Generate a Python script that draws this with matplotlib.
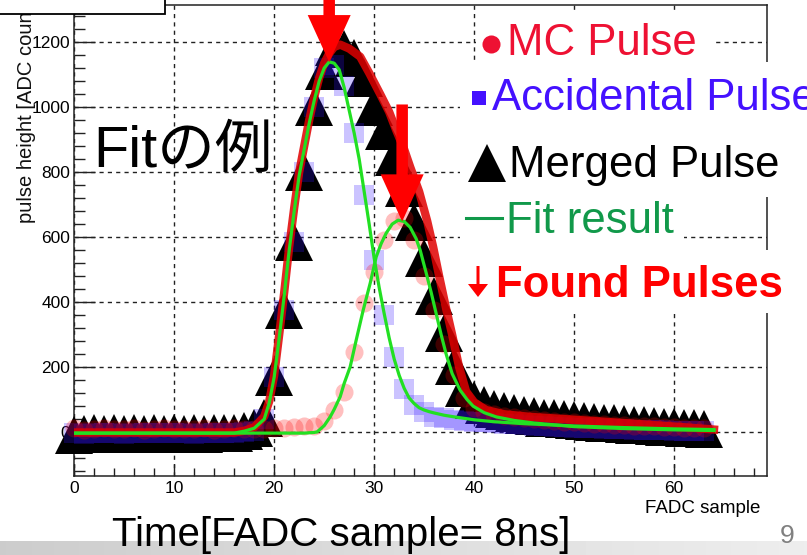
import matplotlib
matplotlib.use("Agg")
import matplotlib.pyplot as plt
import numpy as np
from matplotlib.patches import Rectangle, FancyArrow
from matplotlib.lines import Line2D
from matplotlib.ticker import MultipleLocator

plt.rcParams['font.family'] = ['Liberation Sans', 'Noto Sans CJK JP', 'DejaVu Sans']

W, H = 807, 555

######## data ########
samples = list(range(64))

merged_pulse = [-10, -5, -3, -6, -4, -5, -3, -6, -4, -5, -3, -5, -4, -6, -3, -4, -2, 2, 12,
                45, 170, 375, 585, 800, 1000, 1110, 1185, 1180, 1150, 1090, 1000, 925, 845,
                750, 645, 535, 420, 305, 205, 135, 100, 82, 70, 64, 58, 53, 49, 45, 42, 39,
                36, 34, 32, 29, 27, 25, 23, 21, 19, 17, 15, 14, 12, 10]

accidental_pulse = [-3, -5, -2, -4, -3, -5, -2, -4, -3, -2, -4, -3, -5, -2, -3, -4, -2, 0, 5,
                    40, 170, 375, 585, 800, 1000, 1120, 1130, 1065, 920, 730, 530, 360, 232,
                    133, 85, 62, 48, 42, 38, 35, 32, 30, 28, 26, 24, 22, 20, 18, 17, 15,
                    14, 13, 12, 11, 10, 9, 8, 7, 7, 6, 5, 5, 4, 4]

mc_pulse = [12, 8, 10, 14, 9, 11, 13, 8, 10, 12, 9, 11, 10, 13, 8, 10, 12, 9, 11, 10, 12, 14,
            15, 18, 20, 35, 68, 123, 246, 397, 492, 590, 650, 660, 590, 480, 375, 270, 175,
            105, 75, 62, 55, 50, 46, 42, 39, 36, 34, 32, 30, 28, 26, 25, 23, 22, 20, 19, 18,
            16, 15, 14, 13, 12]

# fit components (green) and total fit (red)
fit_acc_x = [0, 16, 17, 18, 19, 19.5, 20, 20.5, 21, 21.5, 22, 22.5, 23, 23.5, 24, 24.5, 25,
             25.5, 26, 26.5, 27, 27.5, 28, 28.5, 29, 29.5, 30, 30.5, 31, 31.5, 32, 32.5, 33,
             33.5, 34, 34.5, 35, 35.5, 36, 37, 38, 40, 42, 45, 50, 55, 60, 64]
fit_acc_y = [-3, -3, 3, 12, 40, 90, 170, 290, 420, 560, 680, 790, 870, 950, 1020, 1080, 1120,
             1139, 1135, 1115, 1060, 990, 920, 840, 740, 640, 535, 445, 365, 290, 225, 175, 135,
             105, 88, 75, 68, 63, 59, 52, 47, 38, 32, 26, 19, 14, 10, 8]

fit_mc_x = [0, 23, 24, 24.3, 25, 25.6, 26, 26.6, 27, 27.6, 28.2, 28.9, 29.6, 30.2, 30.7, 31.2,
            31.8, 32.4, 33, 33.6, 34.2, 34.6, 35.2, 35.7, 36.2, 36.7, 37.2, 37.8, 38.6, 39.3,
            39.9, 41, 42.2, 44, 46, 50, 55, 60, 64]
fit_mc_y = [-3, -3, -1, 1, 20, 47, 70, 109, 150, 201, 283, 375, 458, 539, 580, 612, 640, 652,
            648, 630, 595, 560, 490, 430, 365, 300, 240, 180, 129, 100, 80, 60, 47, 36, 28, 17,
            11, 7, 5]

fit_total_x = [0, 16, 17, 18, 19, 19.5, 20, 20.5, 21, 21.5, 22, 22.5, 23, 23.5, 24, 24.5, 25,
               25.5, 26, 26.6, 27.5, 28.6, 29.5, 30.6, 31.5, 32.2, 33, 33.6, 34.5, 35.3, 35.9,
               36.5, 37.2, 37.8, 38.5, 39.2, 40, 41.2, 43, 45.6, 50.6, 55, 60.6, 64]
fit_total_y = [-1, -1, 4, 15, 48, 95, 175, 300, 430, 570, 690, 800, 880, 960, 1030, 1090, 1135,
               1165, 1185, 1192, 1180, 1155, 1105, 1040, 985, 929, 870, 816, 740, 650, 570,
               480, 380, 300, 200, 125, 92, 68, 55, 47, 37, 28, 16, 8]

# found pulses (arrow tips)
found_x = [25.5, 32.8]
found_y = [1138, 648]

xticks = [0, 10, 20, 30, 40, 50, 60]
yticks = [0, 200, 400, 600, 800, 1000, 1200]


def fig_box(x0, y0, x1, y1):
    # pixel box (top-left origin) -> figure fraction rect
    return [x0 / W, 1 - y1 / H, (x1 - x0) / W, (y1 - y0) / H]


def fx(x):
    return x / W


def fy(y):
    return 1 - y / H


fig = plt.figure(figsize=(W / 100, H / 100), dpi=100)
fig.patch.set_facecolor('white')

ax = fig.add_axes(fig_box(74.3, 5, 767, 475.7))
ax.set_xlim(0, 69.3)
ax.set_ylim(-134, 1314)

ax.plot(samples, merged_pulse, ls='none', marker='^', ms=28, color='black', mew=0,
        clip_on=False, zorder=3)
ax.plot(samples, accidental_pulse, ls='none', marker='s', ms=14, color='#3311ff', alpha=0.25,
        mew=0, clip_on=False, zorder=4)
ax.plot(samples, mc_pulse, ls='none', marker='o', ms=13, color='#ff0000', alpha=0.25,
        mew=0, clip_on=False, zorder=5)

ax.plot(fit_total_x, fit_total_y, color='#e00000', alpha=0.85, lw=6, zorder=6)
ax.plot(fit_acc_x, fit_acc_y, color='#22e022', lw=2.3, zorder=7)
ax.plot(fit_mc_x, fit_mc_y, color='#22e022', lw=2.3, zorder=7)

arrow_len = 360
for ax_x, ax_y in zip(found_x, found_y):
    ax.add_patch(FancyArrow(ax_x, ax_y + arrow_len, 0, -arrow_len, width=1.15, head_width=4.3,
                            head_length=145, length_includes_head=True, color='#ff0000',
                            lw=0, clip_on=False, zorder=10))

ax.set_xticks(xticks)
ax.set_yticks(yticks)
ax.xaxis.set_minor_locator(MultipleLocator(2))
ax.yaxis.set_minor_locator(MultipleLocator(40))
ax.set_axisbelow(True)
ax.grid(True, which='major', color='#222222', ls=(0, (3, 3)), lw=1)
ax.tick_params(which='both', direction='in', width=1, colors='#222222', labelcolor='black',
               labelsize=12.5)
ax.tick_params(axis='x', which='major', length=9, pad=4)
ax.tick_params(axis='x', which='minor', length=5.5)
ax.tick_params(axis='y', which='major', length=15, pad=3)
ax.tick_params(axis='y', which='minor', length=8)
for s in ax.spines.values():
    s.set_color('#222222')
    s.set_linewidth(1.1)

# slide text boxes covering the frame
for box in [(476, 14, 712, 62), (460, 62, 807, 197), (460, 197, 684, 250), (460, 250, 800, 313)]:
    fig.add_artist(Rectangle((fx(box[0]), fy(box[3])), (box[2] - box[0]) / W,
                             (box[3] - box[1]) / H, transform=fig.transFigure,
                             facecolor='white', edgecolor='none', zorder=5))

# legend written on the slide
fs_leg = 31.5
fig.add_artist(Line2D([fx(491)], [fy(44)], marker='o', ms=13, color='#ee1133', mew=0,
                      transform=fig.transFigure, zorder=6))
fig.text(fx(507), fy(55), 'MC Pulse', color='#ee1133', fontsize=fs_leg, va='baseline', zorder=6)
fig.add_artist(Line2D([fx(479)], [fy(98)], marker='s', ms=10, color='#4411ff', mew=0,
                      transform=fig.transFigure, zorder=6))
fig.text(fx(492), fy(110), 'Accidental Pulse', color='#4411ff', fontsize=fs_leg, va='baseline', zorder=6)
fig.add_artist(Line2D([fx(487)], [fy(163)], marker='^', ms=28, color='black', mew=0,
                      transform=fig.transFigure, zorder=6))
fig.text(fx(509), fy(177), 'Merged Pulse', color='black', fontsize=fs_leg, va='baseline', zorder=6)
fig.add_artist(Line2D([fx(466), fx(502)], [fy(218), fy(218)], color='#11994a', lw=2.2,
                      transform=fig.transFigure, zorder=6))
fig.text(fx(506), fy(233), 'Fit result', color='#11994a', fontsize=fs_leg, va='baseline', zorder=6)
# the down arrow in front of "Found Pulses"
fig.add_artist(FancyArrow(fx(478), fy(266), 0, -(297 - 266) / H, width=3 / W, head_width=20 / W,
                          head_length=13 / H, length_includes_head=True, color='#ff0000', lw=0,
                          transform=fig.transFigure, zorder=6))
fig.text(fx(496), fy(297), 'Found Pulses', color='#ff0000', fontsize=fs_leg, fontweight='bold',
         va='baseline', zorder=6)

fig.text(fx(93), fy(167), 'Fitの例', color='black', fontsize=41.5, va='baseline', zorder=6)

fig.text(fx(26), fy(223), 'pulse height [ADC count]', rotation=90, rotation_mode='anchor',
         ha='left', va='center', fontsize=14.5, color='#111111', zorder=4)
fig.text(fx(760), fy(513), 'FADC sample', ha='right', va='baseline', fontsize=13.5, zorder=6)

# top-left slide box
fig.add_artist(Rectangle((fx(-2), fy(14)), 167 / W, 20 / H, transform=fig.transFigure,
                         facecolor='white', edgecolor='black', lw=1.3, zorder=7))

# bottom gray band
bax = fig.add_axes(fig_box(0, 541, 807, 555), zorder=1)
grad = np.linspace(0.80, 0.93, 256).reshape(1, -1)
bax.imshow(grad, aspect='auto', cmap='gray', vmin=0, vmax=1)
bax.axis('off')

fig.text(fx(112), fy(546), 'Time[FADC sample= 8ns]', fontsize=29, va='baseline', zorder=10)
fig.text(fx(780), fy(543), '9', fontsize=19, color='#808080', va='baseline', zorder=10)

fig.savefig('out.png', dpi=100)
